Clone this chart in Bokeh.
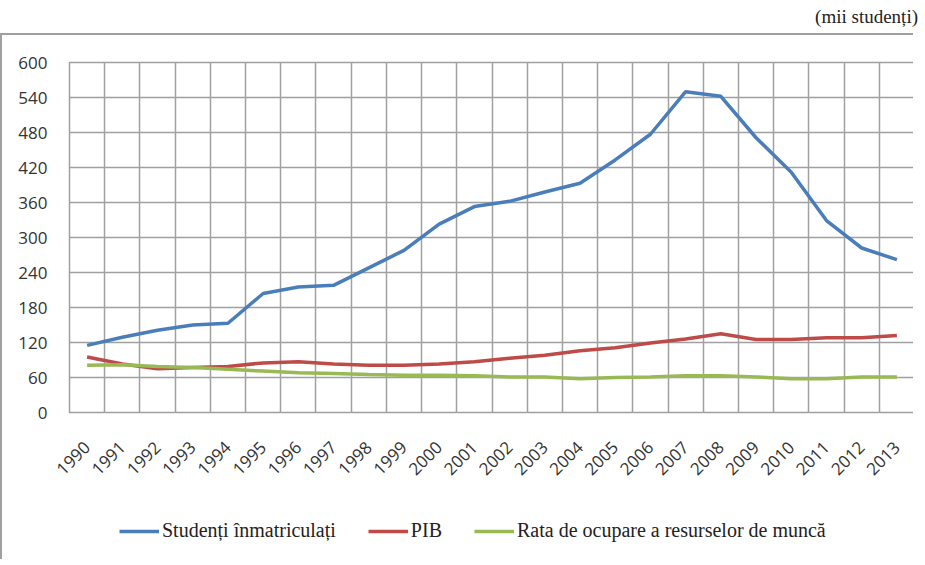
import math
from bokeh.plotting import figure
from bokeh.models import FixedTicker, Legend, LegendItem, Div, Range1d
from bokeh.layouts import column
from bokeh.embed import file_html
from bokeh.resources import INLINE

years = list(range(1990, 2014))
studenti = [115, 129, 141, 150, 153, 204, 215, 218, 248, 278, 323, 353, 362, 378, 393,
            433, 477, 550, 542, 471, 412, 329, 282, 262]
pib = [95, 83, 75, 77, 79, 85, 87, 83, 81, 81, 83, 87, 93, 98, 106,
       111, 119, 126, 135, 125, 125, 128, 128, 132]
rata = [81, 82, 79, 77, 74, 71, 68, 67, 65, 64, 64, 63, 61, 61, 58,
        60, 61, 63, 63, 61, 58, 58, 61, 61]
y_ticks = [0, 60, 120, 180, 240, 300, 360, 420, 480, 540, 600]
labels = ["Studenți înmatriculați", "PIB", "Rata de ocupare a resurselor de muncă"]
colors = ["#4a7ebb", "#be4b48", "#98b954"]

GRID = "#a0a0a0"
series = [studenti, pib, rata]

p = figure(width=913, height=469, output_backend="svg", toolbar_location=None,
           x_range=Range1d(1989.5, 2013.5), y_range=Range1d(0, 600),
           min_border_left=67, min_border_right=1, min_border_top=27, min_border_bottom=92)
p.styles = {"border-left": "2px solid #a0a0a0", "border-top": "2px solid #a0a0a0"}

for ys, c in zip(series, colors):
    p.line(years, ys, line_color=c, line_width=3.5)

p.xaxis.ticker = FixedTicker(ticks=years)
p.xgrid.ticker = FixedTicker(ticks=[y - 0.5 for y in years] + [2013.5])
p.yaxis.ticker = FixedTicker(ticks=y_ticks)
p.xgrid.grid_line_color = GRID
p.ygrid.grid_line_color = GRID
p.xgrid.grid_line_width = 1.5
p.ygrid.grid_line_width = 1.5
p.outline_line_color = GRID
p.outline_line_width = 1.5

for ax in (p.xaxis, p.yaxis):
    ax.major_tick_line_color = None
    ax.minor_tick_line_color = None
    ax.major_label_text_font = "Open Sans"
    ax.major_label_text_color = "#333333"
p.yaxis.major_label_text_font_size = "17px"
p.xaxis.major_label_text_font_size = "17px"
p.xaxis.axis_line_color = GRID
p.yaxis.axis_line_color = None
p.xaxis.major_label_orientation = math.pi / 4
p.xaxis.major_label_standoff = 26
p.yaxis.major_label_standoff = 16

# legend strip (lines drawn outside its visible range; only the legend shows)
lg = figure(width=913, height=57, output_backend="svg", toolbar_location=None,
            x_range=Range1d(0, 1), y_range=Range1d(5000, 5001),
            min_border_left=0, min_border_right=0, min_border_top=0, min_border_bottom=0)
lg.styles = {"border-left": "2px solid #a0a0a0"}
lg.axis.visible = False
lg.grid.visible = False
lg.outline_line_color = None
rs = [lg.line(years, ys, line_color=c, line_width=3.5) for ys, c in zip(series, colors)]
legend = Legend(items=[LegendItem(label=l, renderers=[r]) for l, r in zip(labels, rs)],
                orientation="horizontal", location=(50, 17), padding=5, margin=0,
                label_text_font="'Liberation Serif', serif", label_text_font_size="20px",
                label_text_color="#222222", glyph_width=40, label_standoff=3, spacing=32,
                border_line_color=None, background_fill_alpha=0)
lg.add_layout(legend)

div = Div(text="(mii studenți)", width=913, height=23,
          styles={"text-align": "right", "font-family": "Liberation Serif",
                  "font-size": "19px", "color": "#222", "line-height": "23px"})

layout = column(div, p, lg, spacing=0)
open("out.html", "w").write(file_html(layout, INLINE))
